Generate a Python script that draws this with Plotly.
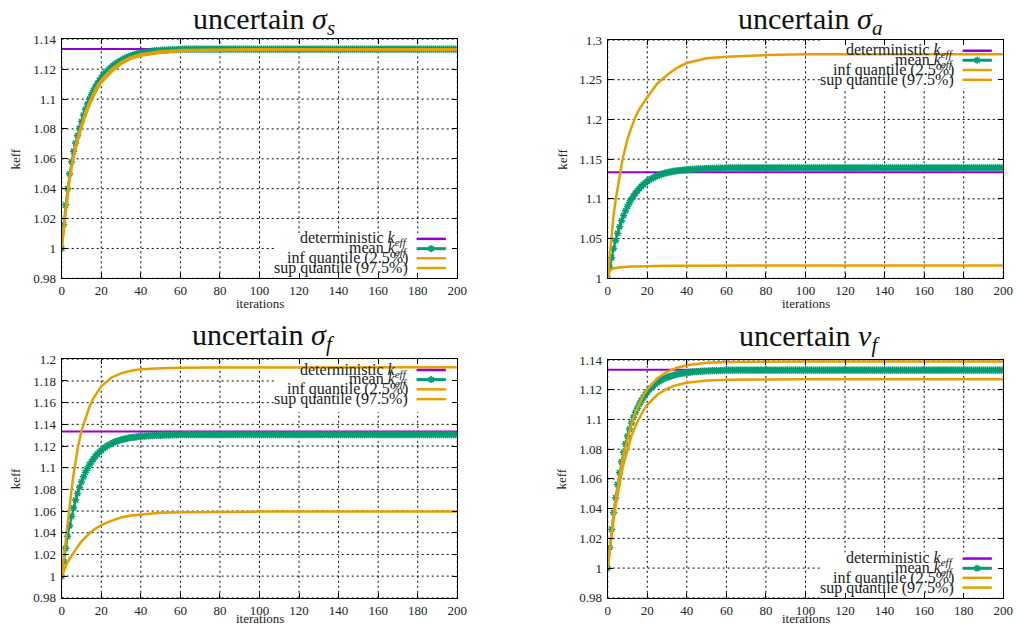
import plotly.graph_objects as go

W, H = 1016, 628

# ---------------- data ----------------
ITER = list(range(201))                      # iterations for the mean (every iteration)
QX = [0, 1, 2, 3, 4, 5, 6, 7, 8, 10, 12, 14, 16, 18, 20, 25, 30, 35, 40, 50, 60, 80, 100, 150, 200]
DET_X = [0, 200]
DET_K = [1.1335, 1.1335]                     # deterministic k_eff

# uncertain sigma_s
S_MEAN_HEAD = [1.000, 1.016, 1.029, 1.040, 1.050, 1.058, 1.065, 1.0705, 1.0755, 1.0805,
               1.085, 1.0893, 1.0932, 1.0967, 1.0999, 1.1029, 1.1056, 1.108, 1.1103, 1.1123,
               1.1142, 1.1159, 1.1174, 1.1188, 1.1201, 1.1213, 1.1224, 1.1234, 1.1242, 1.1251,
               1.1258, 1.1266, 1.1273, 1.1279, 1.1285, 1.129, 1.1294, 1.1298, 1.1302, 1.1305,
               1.1308, 1.1311, 1.1313, 1.1315, 1.1317, 1.1319, 1.1321, 1.1322, 1.1324, 1.1325,
               1.1326, 1.1327, 1.1328, 1.1328, 1.1329, 1.133, 1.133, 1.1331, 1.1331, 1.1332, 1.1332]
S_MEAN_PLATEAU = 1.1334
S_INF = [1.000, 1.012, 1.025, 1.036, 1.046, 1.054, 1.061, 1.067, 1.072, 1.081, 1.089, 1.096, 1.102,
         1.107, 1.111, 1.118, 1.1235, 1.127, 1.129, 1.131, 1.1322, 1.1327, 1.1328, 1.1328, 1.1328]
S_SUP = [1.000, 1.014, 1.027, 1.038, 1.048, 1.056, 1.063, 1.069, 1.074, 1.083, 1.091, 1.098, 1.104,
         1.109, 1.1128, 1.1198, 1.1248, 1.128, 1.13, 1.132, 1.1329, 1.1333, 1.1334, 1.1334, 1.1334]

# uncertain sigma_a
A_MEAN_HEAD = [1.000, 1.014, 1.026, 1.0375, 1.0477, 1.0567, 1.0649, 1.0724, 1.079, 1.085,
               1.0903, 1.0952, 1.0995, 1.1034, 1.107, 1.1102, 1.1131, 1.1157, 1.118, 1.1201,
               1.122, 1.1237, 1.1252, 1.1266, 1.1279, 1.129, 1.13, 1.1309, 1.1317, 1.1324,
               1.133, 1.1336, 1.1341, 1.1346, 1.135, 1.1354, 1.1357, 1.136, 1.1363, 1.1365,
               1.1367, 1.1369, 1.1371, 1.1373, 1.1374, 1.1376, 1.1377, 1.1378, 1.1379, 1.138,
               1.1381, 1.1382, 1.1383, 1.1384, 1.1385, 1.1386, 1.1386, 1.1387, 1.1388, 1.1388, 1.1389]
A_MEAN_PLATEAU = 1.139
A_INF = [1.000, 1.009, 1.0115, 1.0125, 1.013, 1.0135, 1.0138, 1.014, 1.0142, 1.0145, 1.0148, 1.015, 1.0152,
         1.0153, 1.0155, 1.0157, 1.0158, 1.0159, 1.016, 1.016, 1.016, 1.016, 1.016, 1.016, 1.016]
A_SUP = [1.000, 1.030, 1.057, 1.080, 1.098, 1.115, 1.130, 1.143, 1.155, 1.175, 1.190, 1.203, 1.213,
         1.221, 1.228, 1.245, 1.256, 1.265, 1.271, 1.277, 1.279, 1.281, 1.282, 1.282, 1.282]

# uncertain sigma_f
F_MEAN_HEAD = [1.000, 1.0136, 1.0257, 1.0367, 1.0465, 1.0552, 1.063, 1.0701, 1.0763, 1.082,
               1.087, 1.0916, 1.0957, 1.0993, 1.1026, 1.1054, 1.1081, 1.1104, 1.1125, 1.1143,
               1.116, 1.1176, 1.1189, 1.1201, 1.1212, 1.1221, 1.1231, 1.1238, 1.1245, 1.1251,
               1.1257, 1.1262, 1.1266, 1.127, 1.1274, 1.1277, 1.128, 1.1283, 1.1285, 1.1287,
               1.1289, 1.129, 1.1292, 1.1293, 1.1294, 1.1295, 1.1296, 1.1297, 1.1298, 1.1298,
               1.1299, 1.13, 1.13, 1.1301, 1.1301, 1.1302, 1.1302, 1.1303, 1.1303, 1.1304, 1.1304]
F_MEAN_PLATEAU = 1.1305
F_INF = [1.000, 1.005, 1.009, 1.013, 1.016, 1.019, 1.022, 1.0245, 1.027, 1.032, 1.036, 1.0395, 1.0425,
         1.045, 1.047, 1.051, 1.054, 1.056, 1.057, 1.0585, 1.059, 1.0595, 1.0595, 1.0595, 1.0595]
F_SUP = [1.000, 1.017, 1.034, 1.050, 1.066, 1.080, 1.094, 1.106, 1.117, 1.134, 1.146, 1.156, 1.164,
         1.170, 1.175, 1.183, 1.187, 1.1895, 1.1908, 1.1918, 1.1923, 1.1925, 1.1926, 1.1926, 1.1926]

# uncertain nu_f
N_MEAN_HEAD = [1.000, 1.0139, 1.0262, 1.0374, 1.0474, 1.0563, 1.0643, 1.0715, 1.0779, 1.0836,
               1.0888, 1.0935, 1.0976, 1.1014, 1.1047, 1.1076, 1.1103, 1.1127, 1.1148, 1.1167,
               1.1184, 1.12, 1.1213, 1.1225, 1.1237, 1.1247, 1.1256, 1.1264, 1.1271, 1.1277,
               1.1283, 1.1288, 1.1292, 1.1296, 1.13, 1.1304, 1.1307, 1.1309, 1.1312, 1.1314,
               1.1316, 1.1317, 1.1319, 1.132, 1.1321, 1.1322, 1.1323, 1.1324, 1.1325, 1.1326,
               1.1326, 1.1327, 1.1327, 1.1328, 1.1328, 1.1329, 1.1329, 1.133, 1.133, 1.1331, 1.1331]
N_MEAN_PLATEAU = 1.1332
N_INF = [1.000, 1.0121, 1.023, 1.0329, 1.0419, 1.05, 1.0573, 1.0639, 1.07, 1.0803, 1.0888, 1.0956, 1.1013,
         1.106, 1.1098, 1.1166, 1.1207, 1.1232, 1.1247, 1.1262, 1.1267, 1.127, 1.127, 1.127, 1.127]
N_SUP = [1.000, 1.0132, 1.0252, 1.036, 1.0459, 1.0546, 1.0627, 1.0699, 1.0765, 1.0879, 1.0971, 1.1047, 1.1109,
         1.116, 1.1202, 1.1276, 1.1321, 1.1348, 1.1365, 1.1381, 1.1387, 1.139, 1.139, 1.139, 1.139]

X_TICKS = list(range(0, 201, 20))
Y_TICKS_A = [0.98, 1.0, 1.02, 1.04, 1.06, 1.08, 1.1, 1.12, 1.14]
Y_TEXT_A = ["0.98", "1", "1.02", "1.04", "1.06", "1.08", "1.1", "1.12", "1.14"]
Y_TICKS_B = [1.0, 1.05, 1.1, 1.15, 1.2, 1.25, 1.3]
Y_TEXT_B = ["1", "1.05", "1.1", "1.15", "1.2", "1.25", "1.3"]
Y_TICKS_C = [0.98, 1.0, 1.02, 1.04, 1.06, 1.08, 1.1, 1.12, 1.14, 1.16, 1.18, 1.2]
Y_TEXT_C = ["0.98", "1", "1.02", "1.04", "1.06", "1.08", "1.1", "1.12", "1.14", "1.16", "1.18", "1.2"]

LEGEND_LABELS = ["deterministic <i>k</i><sub><i>eff</i></sub>",
                 "mean <i>k</i><sub><i>eff</i></sub>",
                 "inf quantile (2.5%)",
                 "sup quantile (97.5%)"]


def full_mean(head, plateau):
    return head + [plateau] * (len(ITER) - len(head))


# ---------------- style ----------------
PURPLE = "#9400d3"
GREEN = "#009e73"
ORANGE = "#e69f00"
FONT = "Liberation Serif"
TXT = "#222222"
GRID_DASH = "2px,3px"


def px_x(p):
    return p / W


def px_y(p):
    return 1 - p / H


panels = [
    dict(title="uncertain <i>σ</i><sub><i>s</i></sub>", head=S_MEAN_HEAD, plat=S_MEAN_PLATEAU,
         inf=S_INF, sup=S_SUP, xpx=(61.7, 457.3), ypx=(39.3, 278.3), yr=(0.98, 1.14),
         tv=Y_TICKS_A, tt=Y_TEXT_A, leg="bottom", box=(0.539, 1.0, 0.0, 0.19)),
    dict(title="uncertain <i>σ</i><sub><i>a</i></sub>", head=A_MEAN_HEAD, plat=A_MEAN_PLATEAU,
         inf=A_INF, sup=A_SUP, xpx=(607.7, 1003.3), ypx=(40.0, 278.3), yr=(1.0, 1.3),
         tv=Y_TICKS_B, tt=Y_TEXT_B, leg="top", box=(0.537, 1.0, 0.799, 1.0)),
    dict(title="uncertain <i>σ</i><sub><i>f</i></sub>", head=F_MEAN_HEAD, plat=F_MEAN_PLATEAU,
         inf=F_INF, sup=F_SUP, xpx=(61.7, 457.3), ypx=(359.3, 597.8), yr=(0.98, 1.2),
         tv=Y_TICKS_C, tt=Y_TEXT_C, leg="top", box=(0.539, 1.0, 0.779, 1.0)),
    dict(title="uncertain <i>ν</i><sub><i>f</i></sub>", head=N_MEAN_HEAD, plat=N_MEAN_PLATEAU,
         inf=N_INF, sup=N_SUP, xpx=(607.7, 1003.3), ypx=(360.0, 597.8), yr=(0.98, 1.14),
         tv=Y_TICKS_A, tt=Y_TEXT_A, leg="bottom", box=(0.537, 1.0, 0.0, 0.191)),
]

fig = go.Figure()
annotations = []
shapes = []
layout = {}

for i, p in enumerate(panels, start=1):
    xa = "x" if i == 1 else f"x{i}"
    ya = "y" if i == 1 else f"y{i}"
    mean = full_mean(p["head"], p["plat"])

    fig.add_trace(go.Scatter(x=DET_X, y=DET_K, mode="lines", line=dict(color=PURPLE, width=2),
                             xaxis=xa, yaxis=ya, showlegend=False, hoverinfo="skip"))
    fig.add_trace(go.Scatter(x=ITER, y=mean, mode="lines+markers",
                             line=dict(color=GREEN, width=2.2),
                             marker=dict(symbol="asterisk-open", size=6, color=GREEN,
                                         line=dict(color=GREEN, width=1.5)),
                             xaxis=xa, yaxis=ya, showlegend=False, hoverinfo="skip"))
    fig.add_trace(go.Scatter(x=QX, y=p["inf"], mode="lines", line=dict(color=ORANGE, width=2.5),
                             xaxis=xa, yaxis=ya, showlegend=False, hoverinfo="skip"))
    fig.add_trace(go.Scatter(x=QX, y=p["sup"], mode="lines", line=dict(color=ORANGE, width=2.5),
                             xaxis=xa, yaxis=ya, showlegend=False, hoverinfo="skip"))

    x0, x1 = p["xpx"]
    y0, y1 = p["ypx"]
    common = dict(showgrid=False, showline=True, linecolor="black", linewidth=1.3, mirror="allticks",
                  ticks="inside", ticklen=5, tickcolor="black", tickwidth=1, zeroline=False,
                  ticklabeloverflow="allow", automargin=False,
                  tickfont=dict(family=FONT, size=13, color=TXT))
    layout["xaxis" if i == 1 else f"xaxis{i}"] = dict(
        domain=[px_x(x0), px_x(x1)], anchor=ya, range=[0, 200], tickvals=X_TICKS, **common)
    layout["yaxis" if i == 1 else f"yaxis{i}"] = dict(
        domain=[px_y(y1), px_y(y0)], anchor=xa, range=list(p["yr"]), tickvals=p["tv"],
        ticktext=p["tt"], ticklabelstandoff=2, **common)

    xd = f"{xa} domain"
    yd = f"{ya} domain"
    # dotted grid at the major ticks (drawn below the traces)
    for tx in X_TICKS:
        shapes.append(dict(type="line", xref=xa, yref=yd, x0=tx, x1=tx, y0=0, y1=1,
                           line=dict(color="black", width=1, dash=GRID_DASH), layer="below"))
    for ty in p["tv"]:
        shapes.append(dict(type="line", xref=xd, yref=ya, x0=0, x1=1, y0=ty, y1=ty,
                           line=dict(color="black", width=1, dash=GRID_DASH), layer="below"))
    # opaque key background hiding the grid
    bx0, bx1, by0, by1 = p["box"]
    shapes.append(dict(type="rect", xref=xd, yref=yd, x0=bx0, x1=bx1, y0=by0, y1=by1,
                       fillcolor="white", line=dict(width=0), layer="below"))

    cx = (x0 + x1) / 2
    # title (top of its box kept inside the page)
    annotations.append(dict(text=p["title"], xref="paper", yref="paper", x=px_x(cx + 4),
                            y=px_y(max(0.0, y0 - 43)), xanchor="center", yanchor="top",
                            showarrow=False, font=dict(family=FONT, size=30, color="#111")))
    # axis titles
    if i <= 2:
        annotations.append(dict(text="iterations", xref="paper", yref="paper", x=px_x(cx),
                                y=px_y(y1 + 25.5), xanchor="center", yanchor="middle",
                                showarrow=False, font=dict(family=FONT, size=13, color=TXT)))
    else:
        annotations.append(dict(text="iterations", xref="paper", yref="paper", x=px_x(cx),
                                y=0, xanchor="center", yanchor="bottom",
                                showarrow=False, font=dict(family=FONT, size=13, color=TXT)))
    annotations.append(dict(text="keff", xref="paper", yref="paper", x=px_x(x0 - 46),
                            y=px_y((y0 + y1) / 2), xanchor="center", yanchor="middle",
                            textangle=-90, showarrow=False,
                            font=dict(family=FONT, size=13, color=TXT)))
    # custom gnuplot-style key
    rows = [0.955, 0.915, 0.874, 0.833] if p["leg"] == "top" else [0.165, 0.124, 0.084, 0.043]
    colors = [PURPLE, GREEN, ORANGE, ORANGE]
    widths = [2.5, 3, 2.5, 2.5]
    for lab, ry, col, lw in zip(LEGEND_LABELS, rows, colors, widths):
        annotations.append(dict(text=lab, xref=xd, yref=yd, x=0.879, y=ry, xanchor="right",
                                yanchor="middle", showarrow=False, borderpad=0,
                                font=dict(family=FONT, size=16, color=TXT)))
        shapes.append(dict(type="line", xref=xd, yref=yd, x0=0.897, x1=0.971, y0=ry, y1=ry,
                           line=dict(color=col, width=lw), layer="above"))
    shapes.append(dict(type="path", xref=xd, yref=yd, xsizemode="pixel", ysizemode="pixel",
                       xanchor=0.934, yanchor=rows[1],
                       path="M-3.5,0H3.5M0,-3.5V3.5M-2.5,-2.5L2.5,2.5M-2.5,2.5L2.5,-2.5",
                       line=dict(color=GREEN, width=1.6), layer="above"))

fig.update_layout(width=W, height=H, margin=dict(l=0, r=0, t=0, b=0, autoexpand=False),
                  paper_bgcolor="white", plot_bgcolor="white", showlegend=False,
                  annotations=annotations, shapes=shapes, **layout)

fig.write_html("out.html", config={"displayModeBar": False},
               post_script="document.body.style.margin='0';document.body.style.overflow='hidden';")
